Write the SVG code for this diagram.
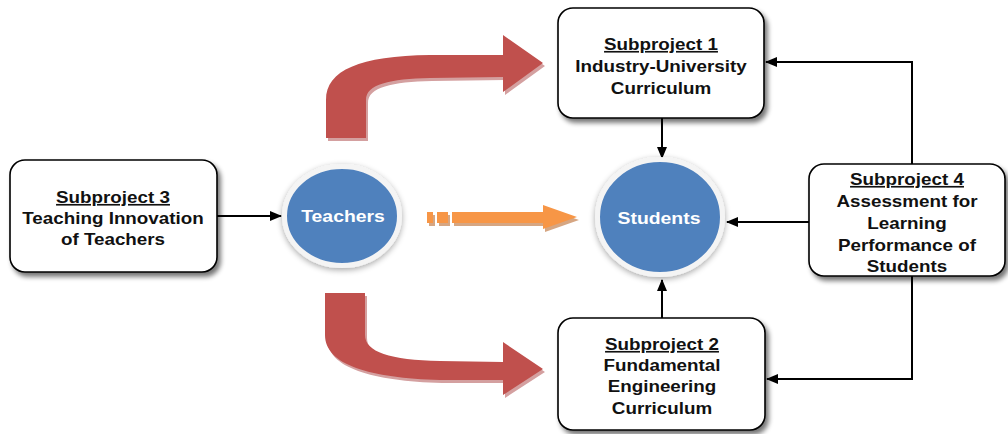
<svg xmlns="http://www.w3.org/2000/svg" width="1008" height="434" viewBox="0 0 1008 434">
<style>
.box{fill:#fff;stroke:#000;stroke-width:1.6}
.t{font-family:"Liberation Sans",Arial,sans-serif;font-weight:bold;font-size:16.5px;fill:#111;text-anchor:middle}
.u{text-decoration:underline}
.ct{font-family:"Liberation Sans",Arial,sans-serif;font-weight:bold;font-size:17px;fill:#fff;text-anchor:middle}
.circ{fill:#4f81bd;stroke:#f4f4f4;stroke-width:5}
.ln{fill:none;stroke:#000;stroke-width:2}
</style>
<defs>
<filter id="sh" x="-10%" y="-10%" width="130%" height="135%">
<feGaussianBlur in="SourceAlpha" stdDeviation="2.5"/>
<feOffset dx="3" dy="4" result="b"/>
<feComponentTransfer><feFuncA type="linear" slope="0.55"/></feComponentTransfer>
<feMerge><feMergeNode/><feMergeNode in="SourceGraphic"/></feMerge>
</filter>
<filter id="glow" x="-20%" y="-20%" width="140%" height="145%">
<feGaussianBlur in="SourceAlpha" stdDeviation="3"/>
<feOffset dx="0" dy="2"/>
<feComponentTransfer><feFuncA type="linear" slope="0.35"/></feComponentTransfer>
<feMerge><feMergeNode/><feMergeNode in="SourceGraphic"/></feMerge>
</filter>
<filter id="soft" x="-10%" y="-10%" width="120%" height="120%">
<feGaussianBlur stdDeviation="0.5"/>
</filter>
<marker id="ah" markerUnits="userSpaceOnUse" markerWidth="12" markerHeight="10" refX="11" refY="5" orient="auto">
<path d="M0,0 L12,5 L0,10 Z" fill="#000"/>
</marker>
</defs>

<g id="red-arrow-top">
<path transform="translate(2,3)" filter="url(#soft)" fill="#d4a0a0" d="M326,138 L326,100 C326,70 360,56 430,55 L503,55 L503,35 L543,63 L503,92 L503,77 L430,78 C390,79 366,84 366,100 L366,138 Z"/>
<path fill="#c0504d" d="M326,138 L326,100 C326,70 360,56 430,55 L503,55 L503,35 L543,63 L503,92 L503,77 L430,78 C390,79 366,84 366,100 L366,138 Z"/>
</g>
<g id="red-arrow-bottom">
<path transform="translate(2,3)" filter="url(#soft)" fill="#d4a0a0" d="M325,293 L365,293 L365,335 C365,352 390,360 440,361 L503,362 L503,342 L543,369 L503,395 L503,380 L440,380 C370,378 325,365 325,335 Z"/>
<path fill="#c0504d" d="M325,293 L365,293 L365,335 C365,352 390,360 440,361 L503,362 L503,342 L543,369 L503,395 L503,380 L440,380 C370,378 325,365 325,335 Z"/>
</g>
<g id="orange-arrow">
<g transform="translate(2,3)" filter="url(#soft)" fill="#d6a682">
<rect x="427" y="212" width="6" height="11"/>
<rect x="437" y="212" width="11" height="11"/>
<path d="M452,212 L543,212 L543,205 L577,217 L543,229 L543,223 L452,223 Z"/>
</g>
<g fill="#f79646">
<rect x="427" y="212" width="6" height="11"/>
<rect x="437" y="212" width="11" height="11"/>
<path d="M452,212 L543,212 L543,205 L577,217 L543,229 L543,223 L452,223 Z"/>
</g>
</g>

<g id="connectors">
<path class="ln" d="M217,216 L281,216" marker-end="url(#ah)"/>
<path class="ln" d="M662,118 L662,158" marker-end="url(#ah)"/>
<path class="ln" d="M662,318 L662,280" marker-end="url(#ah)"/>
<path class="ln" d="M809,222 L727,222" marker-end="url(#ah)"/>
<path class="ln" d="M912,164 L912,62 L766,62" marker-end="url(#ah)"/>
<path class="ln" d="M912,276 L912,379 L767,379" marker-end="url(#ah)"/>
</g>

<g id="subproject3">
<rect class="box" x="10" y="160" width="207" height="112" rx="15" filter="url(#sh)"/>
<text class="t u" transform="translate(113 0) scale(1.14 1)" x="0" y="203">Subproject 3</text>
<text class="t" transform="translate(113 0) scale(1.14 1)" x="0" y="224">Teaching Innovation</text>
<text class="t" transform="translate(113 0) scale(1.14 1)" x="0" y="245">of Teachers</text>
</g>

<g id="subproject1">
<rect class="box" x="558" y="8" width="206" height="110" rx="15" filter="url(#sh)"/>
<text class="t u" transform="translate(661 0) scale(1.14 1)" x="0" y="50">Subproject 1</text>
<text class="t" transform="translate(661 0) scale(1.14 1)" x="0" y="72">Industry-University</text>
<text class="t" transform="translate(661 0) scale(1.14 1)" x="0" y="94">Curriculum</text>
</g>

<g id="subproject2">
<rect class="box" x="558" y="318" width="207" height="112" rx="15" filter="url(#sh)"/>
<text class="t u" transform="translate(662 0) scale(1.14 1)" x="0" y="350">Subproject 2</text>
<text class="t" transform="translate(662 0) scale(1.14 1)" x="0" y="371">Fundamental</text>
<text class="t" transform="translate(662 0) scale(1.14 1)" x="0" y="392">Engineering</text>
<text class="t" transform="translate(662 0) scale(1.14 1)" x="0" y="414">Curriculum</text>
</g>

<g id="subproject4">
<rect class="box" x="809" y="164" width="196" height="112" rx="15" filter="url(#sh)"/>
<text class="t u" transform="translate(907 0) scale(1.14 1)" x="0" y="185">Subproject 4</text>
<text class="t" transform="translate(907 0) scale(1.14 1)" x="0" y="207">Assessment for</text>
<text class="t" transform="translate(907 0) scale(1.14 1)" x="0" y="229">Learning</text>
<text class="t" transform="translate(907 0) scale(1.14 1)" x="0" y="251">Performance of</text>
<text class="t" transform="translate(907 0) scale(1.14 1)" x="0" y="272">Students</text>
</g>

<g id="teachers">
<ellipse class="circ" cx="342" cy="216" rx="57.5" ry="49.5" filter="url(#glow)"/>
<text class="ct" transform="translate(343 0) scale(1.14 1)" x="0" y="222">Teachers</text>
</g>

<g id="students">
<ellipse class="circ" cx="660" cy="217" rx="62.5" ry="57.5" filter="url(#glow)"/>
<text class="ct" transform="translate(659 0) scale(1.14 1)" x="0" y="224">Students</text>
</g>
</svg>
